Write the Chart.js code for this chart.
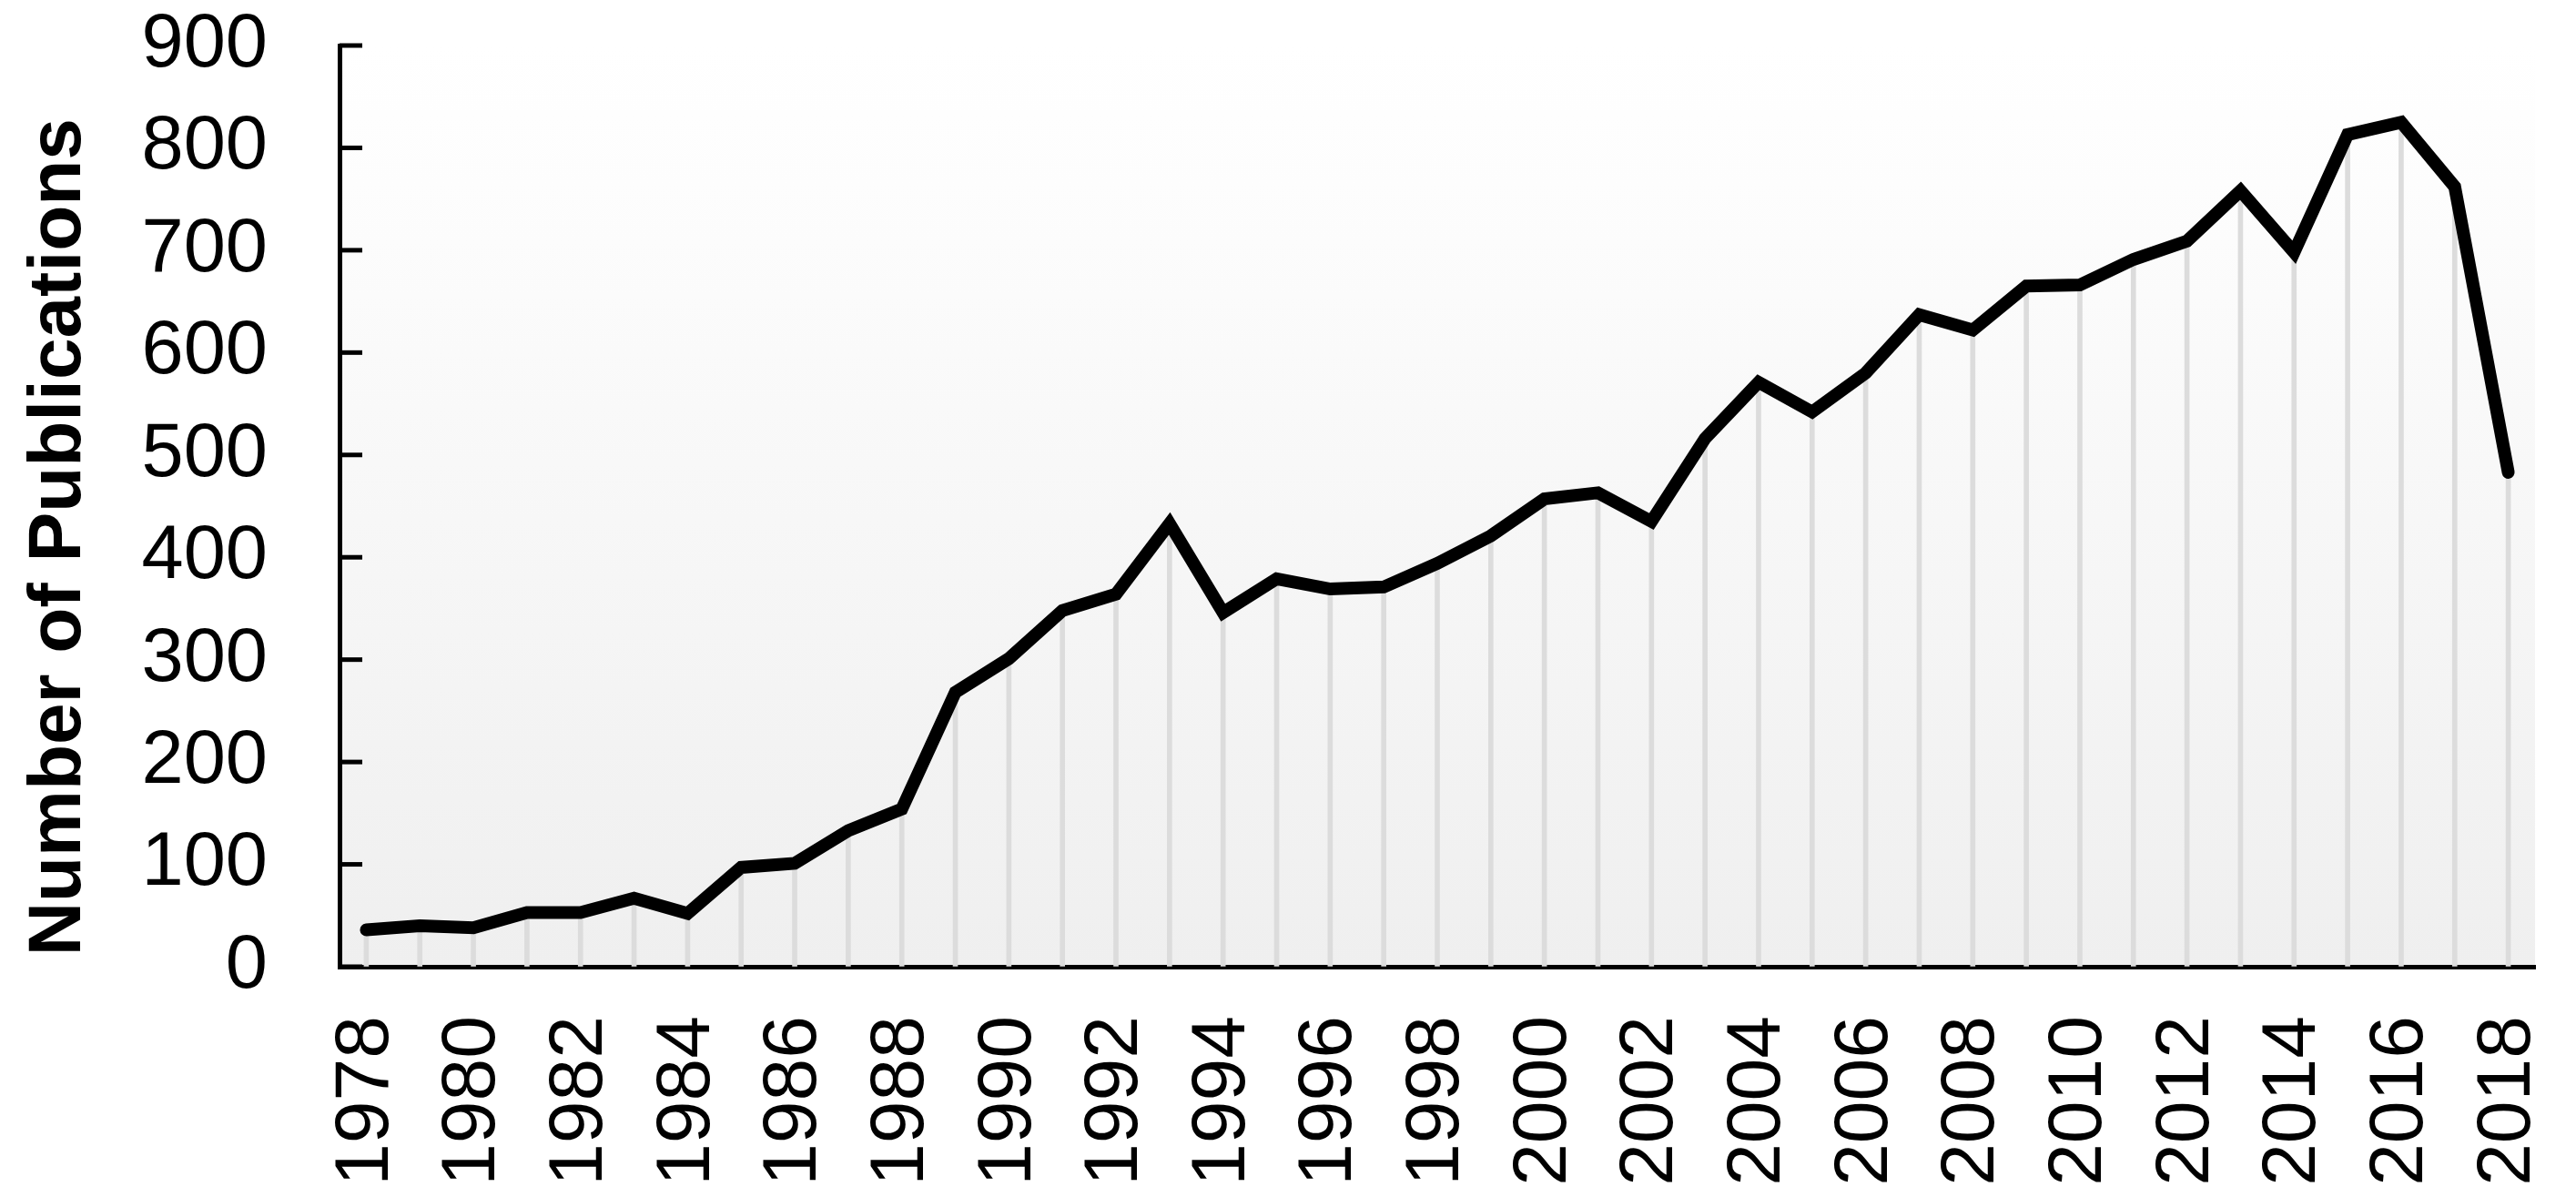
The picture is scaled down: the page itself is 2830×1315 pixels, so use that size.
<!DOCTYPE html>
<html>
<head>
<meta charset="utf-8">
<script src="https://cdn.jsdelivr.net/npm/chart.js@4/dist/chart.umd.min.js"></script>
<style>
html,body{margin:0;padding:0;background:#fff;}
canvas{display:block;}
</style>
</head>
<body>
<canvas id="c" width="2830" height="1315"></canvas>
<script>
const years = ['1978','1979','1980','1981','1982','1983','1984','1985','1986','1987',
  '1988','1989','1990','1991','1992','1993','1994','1995','1996','1997',
  '1998','1999','2000','2001','2002','2003','2004','2005','2006','2007',
  '2008','2009','2010','2011','2012','2013','2014','2015','2016','2017','2018'];
const publications = [36, 40, 38, 53, 53, 67, 52, 97, 101, 133,
  154, 268, 301, 348, 364, 433, 346, 379, 369, 371,
  394, 421, 457, 463, 435, 516, 571, 542, 580, 637,
  622, 665, 666, 691, 709, 758, 698, 813, 825, 762, 483];
const shownYearLabels = ['1978','1980','1982','1984','1986','1988','1990','1992','1994','1996',
  '1998','2000','2002','2004','2006','2008','2010','2012','2014','2016','2018'];
const yTickValues = [0, 100, 200, 300, 400, 500, 600, 700, 800, 900];
const yAxisTitle = 'Number of Publications';

const FONT = "'Liberation Sans', Arial, Helvetica, sans-serif";

const plotBackground = {
  id: 'plotBackground',
  beforeDraw(chart) {
    const {ctx, chartArea: a} = chart;
    const g = ctx.createLinearGradient(0, a.top, 0, a.bottom);
    g.addColorStop(0, '#ffffff');
    g.addColorStop(0.15, '#fdfdfd');
    g.addColorStop(1, '#efefef');
    ctx.save();
    ctx.fillStyle = g;
    ctx.fillRect(a.left, a.top, a.right - a.left, a.bottom - a.top);
    ctx.restore();
  }
};

const inwardTicks = {
  id: 'inwardTicks',
  afterDatasetsDraw(chart) {
    const ys = chart.scales.y;
    const {ctx, chartArea: a} = chart;
    ctx.save();
    ctx.strokeStyle = '#000';
    ctx.lineWidth = 5;
    ys.ticks.forEach(t => {
      const py = ys.getPixelForValue(t.value);
      ctx.beginPath();
      ctx.moveTo(a.left, py);
      ctx.lineTo(a.left + 25, py);
      ctx.stroke();
    });
    ctx.restore();
  }
};

new Chart(document.getElementById('c'), {
  type: 'line',
  data: {
    labels: years,
    datasets: [
      {
        type: 'line',
        data: publications,
        borderColor: '#000',
        borderWidth: 14,
        borderJoinStyle: 'miter',
        borderCapStyle: 'round',
        pointRadius: 0,
        fill: false,
        tension: 0,
        order: 1
      },
      {
        type: 'bar',
        data: publications,
        backgroundColor: '#dcdcdc',
        barThickness: 5,
        order: 2
      }
    ]
  },
  options: {
    responsive: false,
    animation: false,
    devicePixelRatio: 1,
    layout: { padding: { left: 0, right: 45, top: 50, bottom: 0 } },
    plugins: { legend: { display: false }, tooltip: { enabled: false } },
    scales: {
      x: {
        type: 'category',
        offset: true,
        grid: { display: true, drawOnChartArea: false, drawTicks: false },
        border: { display: true, color: '#000', width: 5 },
        ticks: {
          autoSkip: false,
          maxRotation: 90,
          minRotation: 90,
          padding: 54,
          color: '#000',
          font: { family: FONT, size: 84 },
          callback: function(v, i) {
            const l = years[i];
            return shownYearLabels.includes(l) ? l : '';
          }
        },
        afterFit(s) { s.height = 253; s.paddingLeft = 0; s.paddingRight = 0; }
      },
      y: {
        min: 0,
        max: 900,
        afterBuildTicks(s) { s.ticks = yTickValues.map(v => ({ value: v })); },
        grid: { display: true, drawOnChartArea: false, drawTicks: false },
        border: { display: true, color: '#000', width: 5 },
        ticks: {
          padding: 79,
          color: '#000',
          font: { family: FONT, size: 83 }
        },
        title: {
          display: true,
          text: yAxisTitle + '   ',
          color: '#000',
          font: { family: FONT, size: 82, weight: 'bold' },
          padding: { top: 16, bottom: 0 }
        },
        afterFit(s) { s.width = 373; s.paddingTop = 0; s.paddingBottom = 0; }
      }
    }
  },
  plugins: [plotBackground, inwardTicks]
});
</script>
</body>
</html>
